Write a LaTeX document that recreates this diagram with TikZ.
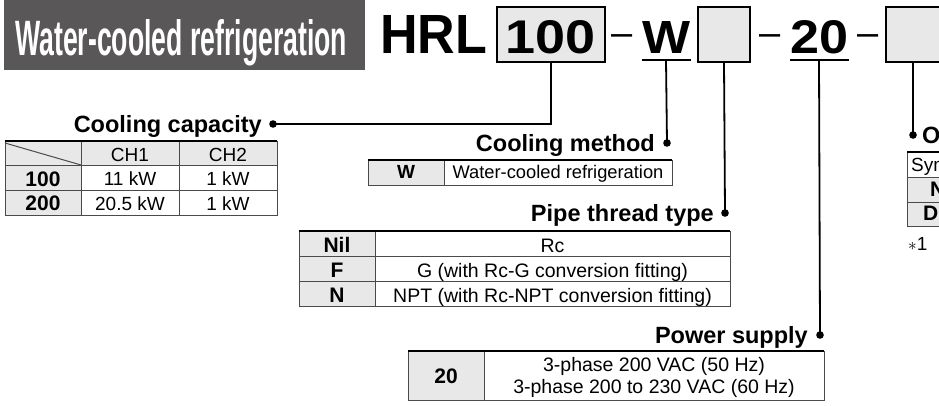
\documentclass[tikz,border=0pt]{standalone}
\usepackage{fontspec}
\setmainfont{Liberation Sans}
\usepackage{graphicx}
\definecolor{titlegray}{HTML}{595757}
\definecolor{cellgray}{HTML}{E8E8E8}
\definecolor{linegray}{HTML}{4A4A4A}
\begin{document}
\begin{tikzpicture}[x=1pt,y=-1pt,
  lbl/.style={font=\fontsize{23.5}{28}\selectfont\bfseries, inner sep=0pt},
  txa/.style={font=\fontsize{19}{22}\selectfont, inner sep=0pt, anchor=base},
  txb/.style={font=\fontsize{18.3}{22}\selectfont, inner sep=0pt, anchor=base},
  txc/.style={font=\fontsize{19.5}{22}\selectfont, inner sep=0pt, anchor=base},
  bk/.style={font=\fontsize{21}{24}\selectfont\bfseries, inner sep=0pt, anchor=base},
  bks/.style={font=\fontsize{19}{24}\selectfont\bfseries, inner sep=0pt, anchor=base},
  codebox/.style={draw=black, line width=1.8pt, fill=cellgray, inner sep=0pt, outer sep=0pt},
  dashchar/.style={font=\fontsize{38}{40}\selectfont, inner sep=0pt, anchor=base},
  conn/.style={line width=1.8pt},
  gridl/.style={draw=linegray, line width=1pt},
  topline/.style={line width=2.2pt, draw=black},
  gcell/.style={fill=cellgray},
  dotn/.style={circle, fill=black, inner sep=0pt, minimum size=7.6pt},
]
\useasboundingbox (0,0) rectangle (939,405);
\begin{scope}
\clip (0,0) rectangle (939,405);

% ---- title banner
\fill[titlegray] (4,0) rectangle (365,70);
\node[inner sep=0pt, anchor=base west, text=white] (title) at (15,55)
  {\resizebox{332pt}{36pt}{\bfseries Water-cooled refrigeration}};

% ---- model code
\node[inner sep=0pt, anchor=base west] (hrl) at (380,53) {\resizebox{107pt}{38pt}{\bfseries HRL}};
\node[codebox, minimum width=108pt, minimum height=55pt] (b1) at (551,34.5) {};
\node[inner sep=0pt, anchor=base] (t100) at (551,53) {\resizebox{90pt}{33pt}{\bfseries 100}};
\node[dashchar] (d1) at (622.5,45) {–};
\node[inner sep=0pt, anchor=base] (tw) at (666,53) {\resizebox{48pt}{32pt}{\bfseries W}};
\coordinate (wul) at (666,60);
\draw[line width=2pt] (642,60) -- (691,60);
\node[codebox, minimum width=52pt, minimum height=55pt] (b2) at (724,34.5) {};
\node[dashchar] (d2) at (770.5,45) {–};
\node[inner sep=0pt, anchor=base] (t20) at (819,53) {\resizebox{58pt}{33pt}{\bfseries 20}};
\coordinate (tul) at (819,60);
\draw[line width=2pt] (790,60) -- (849,60);
\node[dashchar] (d3) at (868,45) {–};
\node[codebox, minimum width=54pt, minimum height=55pt] (b3) at (913,34.5) {};

% ---- dots and connectors
\node[dotn] (pcap) at (273,124) {};
\node[dotn] (pmeth) at (667,143) {};
\node[dotn] (ppipe) at (725,213) {};
\node[dotn] (ppow) at (820,335) {};
\node[dotn] (popt) at (913,135) {};
\draw[conn] (b1.south) |- (pcap.center);
\draw[conn] (wul) -- (pmeth.center);
\draw[conn] (b2.south) -- (ppipe.center);
\draw[conn] (tul) -- (ppow.center);
\draw[conn] (b3.south) -- (popt.center);

% ---- labels
\node[lbl, anchor=base east] (lcap) at (262,132) {Cooling capacity};
\node[lbl, anchor=base east] (lmeth) at (655,151) {Cooling method};
\node[lbl, anchor=base east] (lpipe) at (714,221) {Pipe thread type};
\node[lbl, anchor=base east] (lpow) at (808,343) {Power supply};
\node[lbl, anchor=base west] (lopt) at (922,143) {Option};

% ---- table: cooling capacity
\fill[cellgray] (5,141) rectangle (277,165);
\fill[cellgray] (5,165) rectangle (81,215);
\draw[gridl] (5,141) rectangle (277,215);
\draw[gridl] (5,165) -- (277,165) (5,190) -- (277,190) (81,141) -- (81,215) (179,141) -- (179,215);
\draw[gridl] (5,143) -- (81,165);
\draw[topline] (5,141) -- (277,141);
\node[txa] (ch1) at (130,161.5) {CH1};
\node[txa] (ch2) at (228,161.5) {CH2};
\node[bk] (r100) at (43,186) {100};
\node[txa] (r100a) at (130,185.5) {11 kW};
\node[txa] (r100b) at (228,185.5) {1 kW};
\node[bk] (r200) at (43,210.5) {200};
\node[txa] (r200a) at (130,210) {20.5 kW};
\node[txa] (r200b) at (228,210) {1 kW};

% ---- table: cooling method
\fill[cellgray] (368,160) rectangle (444,185);
\draw[gridl] (368,160) rectangle (672,185);
\draw[gridl] (444,160) -- (444,185);
\draw[topline] (368,160) -- (672,160);
\node[bks] (mw) at (406,178) {W};
\node[txb] (mwt) at (558,178) {Water-cooled refrigeration};

% ---- table: pipe thread
\fill[cellgray] (299,231) rectangle (375,306);
\draw[gridl] (299,231) rectangle (730,306);
\draw[gridl] (299,256) -- (730,256) (299,281) -- (730,281) (375,231) -- (375,306);
\draw[topline] (299,231) -- (730,231);
\node[bk] (pnil) at (337,252.5) {Nil};
\node[txc] (pnilt) at (552.5,252) {Rc};
\node[bk] (pf) at (337,277.5) {F};
\node[txc] (pft) at (552.5,277) {G (with Rc-G conversion fitting)};
\node[bk] (pn) at (337,302.5) {N};
\node[txc] (pnt) at (552.5,302) {NPT (with Rc-NPT conversion fitting)};

% ---- table: power supply
\fill[cellgray] (408,351) rectangle (484,400);
\draw[gridl] (408,351) rectangle (824,400);
\draw[gridl] (484,351) -- (484,400);
\draw[topline] (408,351) -- (824,351);
\node[bk] (s20) at (446,383.5) {20};
\node[txc] (s20a) at (654,371) {3-phase 200 VAC (50 Hz)};
\node[txc] (s20b) at (654,393.5) {3-phase 200 to 230 VAC (60 Hz)};

% ---- table: option (cut by the right edge)
\fill[cellgray] (907,177) rectangle (960,226);
\draw[gridl] (907,152) rectangle (990,226);
\draw[gridl] (907,177) -- (990,177) (907,202) -- (990,202);
\draw[topline] (907,152) -- (990,152);
\node[txa, anchor=base west] (osym) at (911,171.5) {Symbol};
\node[bk, anchor=base west] (on) at (930,196.5) {N};
\node[bk, anchor=base west] (od) at (923,220.5) {D};
\node[txa, anchor=base west] (onote) at (908,250) {$\ast$1};
\end{scope}
\end{tikzpicture}
\end{document}
